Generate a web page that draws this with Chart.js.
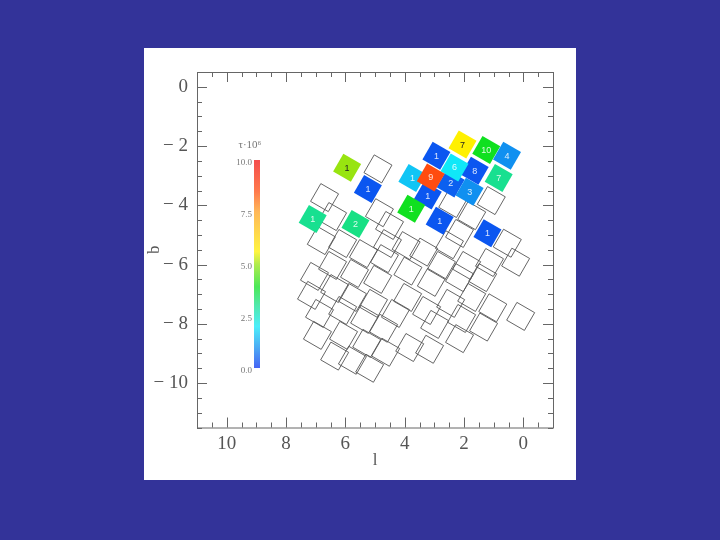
<!DOCTYPE html>
<html><head><meta charset="utf-8">
<style>
html,body{margin:0;padding:0;background:#333399;width:720px;height:540px;overflow:hidden}
#panel{position:absolute;left:144px;top:48px;width:432px;height:432px;background:#fff}
canvas{display:block}
</style>
<script src="https://cdn.jsdelivr.net/npm/chart.js@4"></script>
</head><body>
<div id="panel"><canvas id="c" width="432" height="432"></canvas></div>
<script>
const emptyL=[4.90,6.70,6.43,1.08,4.85,4.51,2.38,1.74,2.15,6.81,6.09,5.39,6.43,5.69,7.04,4.68,4.58,3.89,3.95,4.91,6.36,5.76,7.14,6.87,6.09,5.35,5.05,4.31,4.71,3.90,6.94,6.06,6.36,5.28,5.76,5.18,4.64,3.83,0.09,1.03,1.34,2.15,3.16,1.74,2.08,2.99,3.26,2.45,0.54,0.26,1.14,2.49,1.91,3.36,2.76,1.37,2.15,3.10];
const emptyB=[-2.77,-3.74,-4.38,-3.84,-4.25,-4.68,-3.94,-4.35,-4.95,-5.19,-5.29,-5.63,-6.03,-6.30,-6.40,-5.80,-5.29,-6.22,-5.36,-6.50,-6.81,-7.11,-7.04,-7.65,-7.55,-7.85,-7.31,-7.65,-8.15,-7.11,-8.39,-8.39,-9.09,-8.66,-9.23,-9.50,-8.96,-8.80,-7.75,-7.46,-8.11,-8.50,-8.86,-7.11,-7.82,-8.02,-7.55,-7.31,-5.28,-5.92,-5.93,-5.33,-6.03,-5.58,-6.03,-6.44,-6.44,-6.60];
const fieldL=[5.94,5.24,7.10,5.66,3.22,3.74,3.78,2.82,1.21,2.93,2.45,1.81,1.64,2.32,2.05,1.25,0.55,0.83,3.12];
const fieldB=[-2.73,-3.45,-4.46,-4.63,-3.67,-3.08,-4.12,-4.52,-4.94,-2.33,-3.26,-3.54,-2.83,-2.72,-1.95,-2.13,-2.33,-3.08,-3.06];
const fieldTau=[5.0,0.4,3.0,3.1,0.4,1.6,3.9,0.4,0.4,0.4,0.5,1.0,0.4,2.0,5.6,3.9,1.0,3.0,8.5];
const fieldCount=[1,1,1,2,1,1,1,1,1,1,2,3,8,6,7,10,4,7,9];
const barTicks=[0,2.5,5,7.5,10];
const barLabels=['0.0','2.5','5.0','7.5','10.0'];
const axisMajor=[10,8,6,4,2,0];

const FONT='"Liberation Serif","DejaVu Serif",serif';
const cmap=[[0,[8,48,240]],[1,[16,144,240]],[2,[16,232,248]],[3,[24,224,144]],[3.9,[16,224,32]],[5,[152,228,16]],[5.6,[255,240,0]],[7.5,[255,160,32]],[8.5,[255,76,16]],[10,[240,16,16]]];
function tauColor(t){
  for(let i=1;i<cmap.length;i++){
    if(t<=cmap[i][0]){
      const [a,ca]=cmap[i-1],[b,cb]=cmap[i],f=(t-a)/(b-a);
      return 'rgb('+ca.map((v,k)=>Math.round(v+(cb[k]-v)*f)).join(',')+')';
    }
  }
  return 'rgb(240,16,16)';
}
const SIDE=20.5, R=SIDE/Math.SQRT2, ROT=30;

const frame={id:'frame',
  afterDatasetsDraw(ch){
    const {ctx,chartArea:a,scales:{x,y}}=ch;
    ctx.save();
    ctx.font='9px "Liberation Sans",sans-serif';ctx.textAlign='center';ctx.textBaseline='middle';
    fieldCount.forEach((n,i)=>{
      ctx.fillStyle=(fieldTau[i]>4.5&&fieldTau[i]<7)?'#222':'rgba(255,255,255,.85)';
      ctx.fillText(String(n),x.getPixelForValue(fieldL[i]),y.getPixelForValue(fieldB[i])+0.5);
    });
    ctx.strokeStyle='#666';ctx.lineWidth=1;
    ctx.strokeRect(a.left+.5,a.top+.5,a.right-a.left,a.bottom-a.top);
    ctx.beginPath();
    x.ticks.forEach(t=>{
      const p=Math.round(x.getPixelForValue(t.value))+.5,len=Number.isInteger(t.value/2)?10:5;
      ctx.moveTo(p,a.bottom);ctx.lineTo(p,a.bottom-len);
      ctx.moveTo(p,a.top);ctx.lineTo(p,a.top+len);
    });
    y.ticks.forEach(t=>{
      const p=Math.round(y.getPixelForValue(t.value))+.5,len=Number.isInteger(t.value/2)?10:5;
      ctx.moveTo(a.left,p);ctx.lineTo(a.left+len,p);
      ctx.moveTo(a.right,p);ctx.lineTo(a.right-len,p);
    });
    ctx.stroke();
    const bx=110,bw=6,bt=112,bb=320;
    const g=ctx.createLinearGradient(0,bb,0,bt);
    cmap.forEach(([v,c])=>g.addColorStop(v/10,'rgb('+c.join(',')+')'));
    ctx.globalAlpha=.75;ctx.fillStyle=g;ctx.fillRect(bx,bt,bw,bb-bt);ctx.globalAlpha=1;
    ctx.fillStyle='#777';ctx.font='9px '+FONT;ctx.textAlign='right';ctx.textBaseline='middle';
    barTicks.forEach((v,i)=>ctx.fillText(barLabels[i],bx-2,bb-(bb-bt)*v/10+3));
    ctx.textAlign='center';ctx.font='11px '+FONT;
    ctx.fillText('τ·10⁶',106,97);
    ctx.restore();
  }};

new Chart(document.getElementById('c'),{
  type:'scatter',
  data:{datasets:[
    {label:'empty fields',data:emptyL.map((l,i)=>({x:l,y:emptyB[i]})),pointStyle:'rect',pointRadius:R,pointRotation:ROT,
     backgroundColor:'rgba(255,255,255,0)',borderColor:'#555',borderWidth:0.9,order:2},
    {label:'microlensing fields',data:fieldL.map((l,i)=>({x:l,y:fieldB[i]})),pointStyle:'rect',pointRadius:R,pointRotation:ROT,
     backgroundColor:fieldTau.map(tauColor),borderColor:fieldTau.map(tauColor),borderWidth:0,order:1}
  ]},
  options:{
    responsive:false,animation:false,
    layout:{padding:{top:24,right:23,left:0,bottom:0}},
    plugins:{legend:{display:false},tooltip:{enabled:false}},
    scales:{
      x:{type:'linear',reverse:true,min:-1,max:11,grid:{display:false,drawTicks:false},border:{display:false},
        title:{display:true,text:'l',font:{family:FONT,size:17},color:'#555',padding:{top:0,bottom:9}},
        afterBuildTicks(s){s.ticks=[];for(let i=-2;i<=22;i++)s.ticks.push({value:i/2});},
        afterFit(s){s.height=52.5;},
        ticks:{autoSkip:false,maxRotation:0,padding:5,color:'#555',font:{family:FONT,size:19},
          callback:v=>axisMajor.includes(v)?String(v):''}},
      y:{type:'linear',min:-11.5,max:0.5,grid:{display:false,drawTicks:false},border:{display:false},
        title:{display:true,text:'b',font:{family:FONT,size:17},color:'#555',padding:{top:0,bottom:0}},
        afterBuildTicks(s){s.ticks=[];for(let i=-23;i<=1;i++)s.ticks.push({value:i/2});},
        afterFit(s){s.width=53;},
        ticks:{autoSkip:false,padding:9,color:'#555',font:{family:FONT,size:19},
          callback:v=>(Number.isInteger(v/2)&&v<=0)?(v<0?'− '+Math.abs(v):'0'):''}}
    }
  },
  plugins:[frame]
});
</script>
</body></html>
